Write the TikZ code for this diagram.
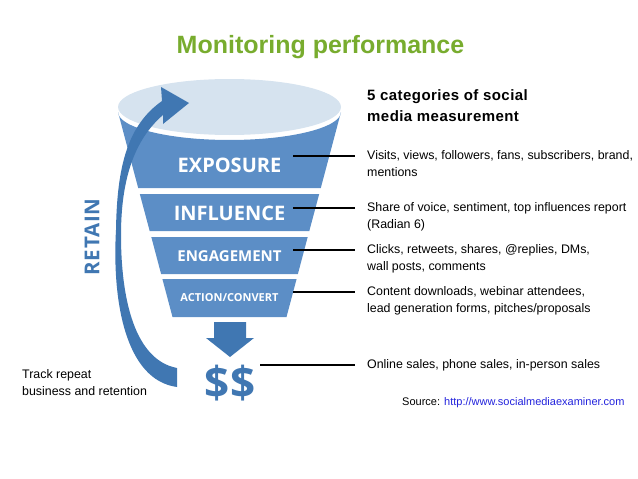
\documentclass[tikz,border=0pt]{standalone}
\usepackage{fontspec}
\setmainfont{Liberation Sans}
\newfontfamily\bandfont{Open Sans}
\newfontfamily\retainfont{Open Sans}[LetterSpace=4]
\newfontfamily\headfont{Liberation Sans}[LetterSpace=3]
\definecolor{bandblue}{RGB}{92,142,198}
\definecolor{arrowblue}{RGB}{64,119,178}
\definecolor{rimlight}{RGB}{214,227,239}
\definecolor{titlegreen}{RGB}{120,172,46}
\definecolor{urlblue}{RGB}{34,34,220}
\begin{document}
\begin{tikzpicture}[x=1pt,y=-1pt,
    band/.style={fill=bandblue},
    lbl/.style={text=white,inner sep=0pt},
    info/.style={anchor=north west,inner sep=0pt,align=left,font=\fontsize{12.4}{17}\selectfont},
    lead/.style={draw=black,line width=1.1pt,shorten >=12pt}]
    \useasboundingbox (0,0) rectangle (638,479);
    % Title
    \node[anchor=base,text=titlegreen,font=\fontsize{25}{30}\selectfont\bfseries] (title) at (320.5,53) {Monitoring performance};
    % Funnel
    \fill[band] (118,112) -- (138.2,188) -- (320.8,188) -- (341,112) arc[start angle=0,end angle=180,x radius=111.5,y radius=28] -- cycle;
    \fill[rimlight] (229.5,107) ellipse[x radius=111.5,y radius=28];
    \fill[band] (139.8,194) -- (149.7,231) -- (309.3,231) -- (319.2,194) -- cycle;
    \fill[band] (151.3,237) -- (161.1,274) -- (297.9,274) -- (307.7,237) -- cycle;
    \fill[band] (162.4,279) -- (172.5,317) -- (286.5,317) -- (296.6,279) -- cycle;
    \node[lbl,font=\bandfont\bfseries\fontsize{20}{24}\selectfont] (expo) at (229.5,165) {EXPOSURE};
    \node[lbl,font=\bandfont\bfseries\fontsize{20}{24}\selectfont] (infl) at (229.5,213) {INFLUENCE};
    \node[lbl,font=\bandfont\bfseries\fontsize{15}{18}\selectfont] (enga) at (229.5,256) {ENGAGEMENT};
    \node[lbl,font=\bandfont\bfseries\fontsize{11}{13}\selectfont] (acti) at (229.5,298) {ACTION/CONVERT};
    % Down arrow and money
    \fill[arrowblue] (214,322) -- (246,322) -- (246,338) -- (254,338) -- (230,357) -- (206,338) -- (214,338) -- cycle;
    \node[text=arrowblue,inner sep=0pt,font=\bandfont\bfseries\fontsize{44}{46}\selectfont] (money) at (230,383) {\$\$};
    % Retain arrow
    \fill[arrowblue] (177,387) .. controls (125,380) and (112,300) .. (116,230)
        .. controls (117,165) and (128,125) .. (162,101) -- (161,87) -- (189,103) -- (163,124) -- (163,115)
        .. controls (134,140) and (121,180) .. (121,235) .. controls (121,300) and (135,360) .. (177,368) -- cycle;
    \node[rotate=90,text=arrowblue,inner sep=0pt,font=\retainfont\bfseries\fontsize{20.5}{24}\selectfont] (retain) at (92,237) {RETAIN};
    % Categories
    \node[info,font=\headfont\fontsize{15}{21}\selectfont\bfseries] (head) at (367,89) {5 categories of social\\media measurement};
    \node[info] (visits) at (367,150) {Visits, views, followers, fans, subscribers, brand,\\mentions};
    \node[info] (share) at (367,202) {Share of voice, sentiment, top influences report\\(Radian 6)};
    \node[info] (clicks) at (367,244) {Clicks, retweets, shares, @replies, DMs,\\wall posts, comments};
    \node[info] (content) at (367,286) {Content downloads, webinar attendees,\\lead generation forms, pitches/proposals};
    \node[info] (online) at (367,359) {Online sales, phone sales, in-person sales};
    \node[info] (track) at (22,369) {Track repeat\\business and retention};
    \node[anchor=west,inner sep=0pt,font=\fontsize{11}{13}\selectfont] (source) at (402,403) {Source: \textcolor{urlblue}{http://www.socialmediaexaminer.com}};
    % Leaders
    \coordinate (e1) at (293,156);
    \coordinate (e2) at (293,208);
    \coordinate (e3) at (293,250);
    \coordinate (e4) at (293,292);
    \coordinate (e5) at (260,365);
    \draw[lead] (e1) -- (e1 -| visits.west);
    \draw[lead] (e2) -- (e2 -| share.west);
    \draw[lead] (e3) -- (e3 -| clicks.west);
    \draw[lead] (e4) -- (e4 -| content.west);
    \draw[lead] (e5) -- (e5 -| online.west);
\end{tikzpicture}
\end{document}
